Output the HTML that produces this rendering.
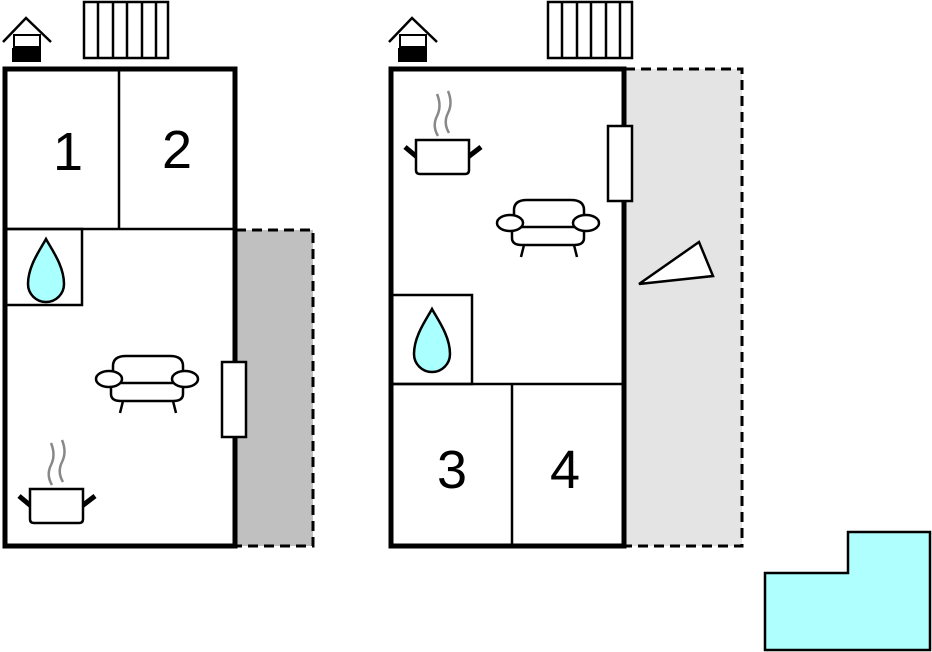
<!DOCTYPE html>
<html><head><meta charset="utf-8"><style>
html,body{margin:0;padding:0;background:#fff;width:932px;height:652px;overflow:hidden}
svg{display:block}
text{font-family:"Liberation Sans",sans-serif;font-size:54px;fill:#000}
</style></head><body>
<svg width="932" height="652" viewBox="0 0 932 652" xmlns="http://www.w3.org/2000/svg">
<defs>
<g id="sofa" fill="#fff" stroke="#000" stroke-width="2.5">
<path d="M17,27 L17,10 Q17,0 30,0 L74,0 Q87,0 87,10 L87,27"/>
<path d="M15,27 L15,38 Q15,45 25,45 L77,45 Q87,45 87,38 L87,27 Z"/>
<ellipse cx="13" cy="23" rx="13" ry="8"/>
<ellipse cx="89" cy="23" rx="13" ry="8"/>
<line x1="27" y1="45" x2="24" y2="57"/>
<line x1="77" y1="45" x2="80" y2="57"/>
</g>
<g id="pot">
<path d="M52,485 Q46,475 51,465 Q56,455 51,443" fill="none" stroke="#888" stroke-width="2.5"/>
<path d="M63,482 Q57,472 62,462 Q67,452 62,440" fill="none" stroke="#888" stroke-width="2.5"/>
<line x1="19" y1="496" x2="31" y2="506" stroke="#000" stroke-width="5"/>
<line x1="82" y1="506" x2="95" y2="496" stroke="#000" stroke-width="5"/>
<path d="M30,489 L83,489 L83,519 Q83,523 79,523 L34,523 Q30,523 30,519 Z" fill="#fff" stroke="#000" stroke-width="2.5"/>
</g>
<path id="drop" d="M46,239 C40,250 28,266 28,284 A18,18 0 0 0 64,284 C64,266 52,250 46,239Z" fill="#aff" stroke="#000" stroke-width="2.5"/>
<g id="house">
<polyline points="3,42 26,18 51,42" fill="none" stroke="#000" stroke-width="2.5"/>
<rect x="14" y="35" width="26" height="12" fill="#fff" stroke="#000" stroke-width="2"/>
<rect x="12" y="48" width="29" height="14" fill="#000"/>
</g>
<g id="rad" fill="#fff" stroke="#000" stroke-width="2.5">
<rect x="84" y="2" width="84" height="56"/>
<line x1="98" y1="2" x2="98" y2="58"/><line x1="113" y1="2" x2="113" y2="58"/>
<line x1="127" y1="2" x2="127" y2="58"/><line x1="142" y1="2" x2="142" y2="58"/>
<line x1="156" y1="2" x2="156" y2="58"/>
</g>
</defs>

<rect x="236" y="230" width="77" height="316" fill="#c0c0c0" stroke="#000" stroke-width="3" stroke-dasharray="10,6"/>
<rect x="5" y="69" width="230" height="477" fill="#fff" stroke="#000" stroke-width="5"/>
<line x1="119" y1="69" x2="119" y2="229" stroke="#000" stroke-width="2.5"/>
<line x1="5" y1="229" x2="235" y2="229" stroke="#000" stroke-width="2.5"/>
<rect x="5" y="229" width="77" height="76" fill="none" stroke="#000" stroke-width="2.5"/>
<use href="#drop"/>
<rect x="222" y="362" width="24" height="75" fill="#fff" stroke="#000" stroke-width="2.5"/>
<use href="#sofa" transform="translate(96,356)"/>
<use href="#pot"/>
<text x="68" y="170" text-anchor="middle">1</text>
<text x="177" y="168" text-anchor="middle">2</text>
<use href="#house"/>
<use href="#rad"/>

<rect x="625" y="69" width="117" height="477" fill="#e4e4e4" stroke="#000" stroke-width="3" stroke-dasharray="10,6"/>
<rect x="391" y="69" width="233" height="477" fill="#fff" stroke="#000" stroke-width="5"/>
<line x1="391" y1="384" x2="624" y2="384" stroke="#000" stroke-width="2.5"/>
<line x1="512" y1="384" x2="512" y2="546" stroke="#000" stroke-width="2.5"/>
<rect x="391" y="295" width="81" height="89" fill="none" stroke="#000" stroke-width="2.5"/>
<use href="#drop" transform="translate(386,70)"/>
<rect x="608" y="126" width="24" height="75" fill="#fff" stroke="#000" stroke-width="2.5"/>
<use href="#sofa" transform="translate(497,200)"/>
<use href="#pot" transform="translate(386,-349)"/>
<polygon points="639,284 699,242 713,276" fill="#fff" stroke="#000" stroke-width="2.5"/>
<text x="452" y="488" text-anchor="middle">3</text>
<text x="565" y="488" text-anchor="middle">4</text>
<use href="#house" transform="translate(386,0)"/>
<use href="#rad" transform="translate(464,0)"/>

<polygon points="765,573 848,573 848,532 930,532 930,650 765,650" fill="#b0ffff" stroke="#000" stroke-width="2.5"/>
</svg>
</body></html>
